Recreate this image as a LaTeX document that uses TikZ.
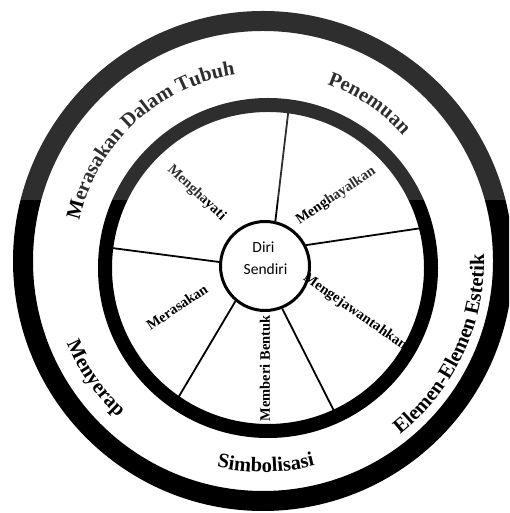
\documentclass[tikz,border=0pt]{standalone}
\usepackage{fontspec}
\setmainfont{Liberation Serif}
\newfontfamily\carlitofam{Carlito}
\usetikzlibrary{decorations.text,calc}
\newcommand\olabfont{\fontsize{20.5}{20.5}\selectfont\bfseries}
\begin{document}
\begin{tikzpicture}[x=1pt,y=1pt,
  spoke/.style={line width=1.8pt, draw=black},
  innerlabel/.style={font=\fontsize{14.5}{14.5}\selectfont\bfseries, inner sep=0pt},
  selftext/.style={font=\carlitofam\fontsize{15.5}{15.5}\selectfont, inner sep=0pt, anchor=base},
  arclabel/.style={decorate, decoration={text along path, text align=center, text={|\olabfont|#1}}}
]
\useasboundingbox (0,0) rectangle (509,513);
\clip (0,0) rectangle (509,513);
\coordinate (O) at (263,252);
\coordinate (I) at (268,245);
% centre circle
\node[circle, draw, line width=3pt, minimum size=89pt, inner sep=0pt] (self) at (265,247) {};
\node[selftext] (diri) at (263.5,260) {Diri};
\node[selftext] (sendiri) at (265.5,238) {Sendiri};
% spokes
\draw[spoke] (self.77) -- ($(I)+(82.6:158)$);
\draw[spoke] (self.27) -- ($(I)+(14.6:158)$);
\draw[spoke] (self.175) -- ($(I)+(172.7:158)$);
\draw[spoke] (self.230) -- ($(I)+(235.3:158)$);
\draw[spoke] (self.292) -- ($(I)+(294.8:158)$);
% rings
\draw[line width=14pt] (I) circle[radius=163pt];
\draw[line width=20pt] (O) circle[radius=240pt];
% inner labels
\node[innerlabel, rotate=-43] (l1) at (196.5,320) {Menghayati};
\node[innerlabel, rotate=34] (l2) at (336,317) {Menghayalkan};
\node[innerlabel, rotate=-35] (l3) at (355,201) {Mengejawantahkan};
\node[innerlabel, rotate=90] (l4) at (265,144.5) {Memberi Bentuk};
\node[innerlabel, rotate=34] (l5) at (177,206) {Merasakan};
% outer labels
\path[arclabel={Merasakan Dalam Tubuh}] ($(O)+(169:188)$) arc[start angle=169, end angle=97, radius=188pt];
\path[arclabel={Penemuan}] ($(O)+(81:188)$) arc[start angle=81, end angle=31, radius=188pt];
\path[arclabel={Elemen-Elemen Estetik}] ($(O)+(-58:221)$) arc[start angle=-58, end angle=8, radius=221pt];
\path[arclabel={Simbolisasi}] ($(O)+(-111:211)$) arc[start angle=-111, end angle=-67.4, radius=211pt];
\path[arclabel={Menyerap}] ($(O)+(194:213)$) arc[start angle=194, end angle=236, radius=213pt];
% lighter tone of the upper part
\fill[white, opacity=0.18] (0,313) rectangle (509,513);
\end{tikzpicture}
\end{document}
